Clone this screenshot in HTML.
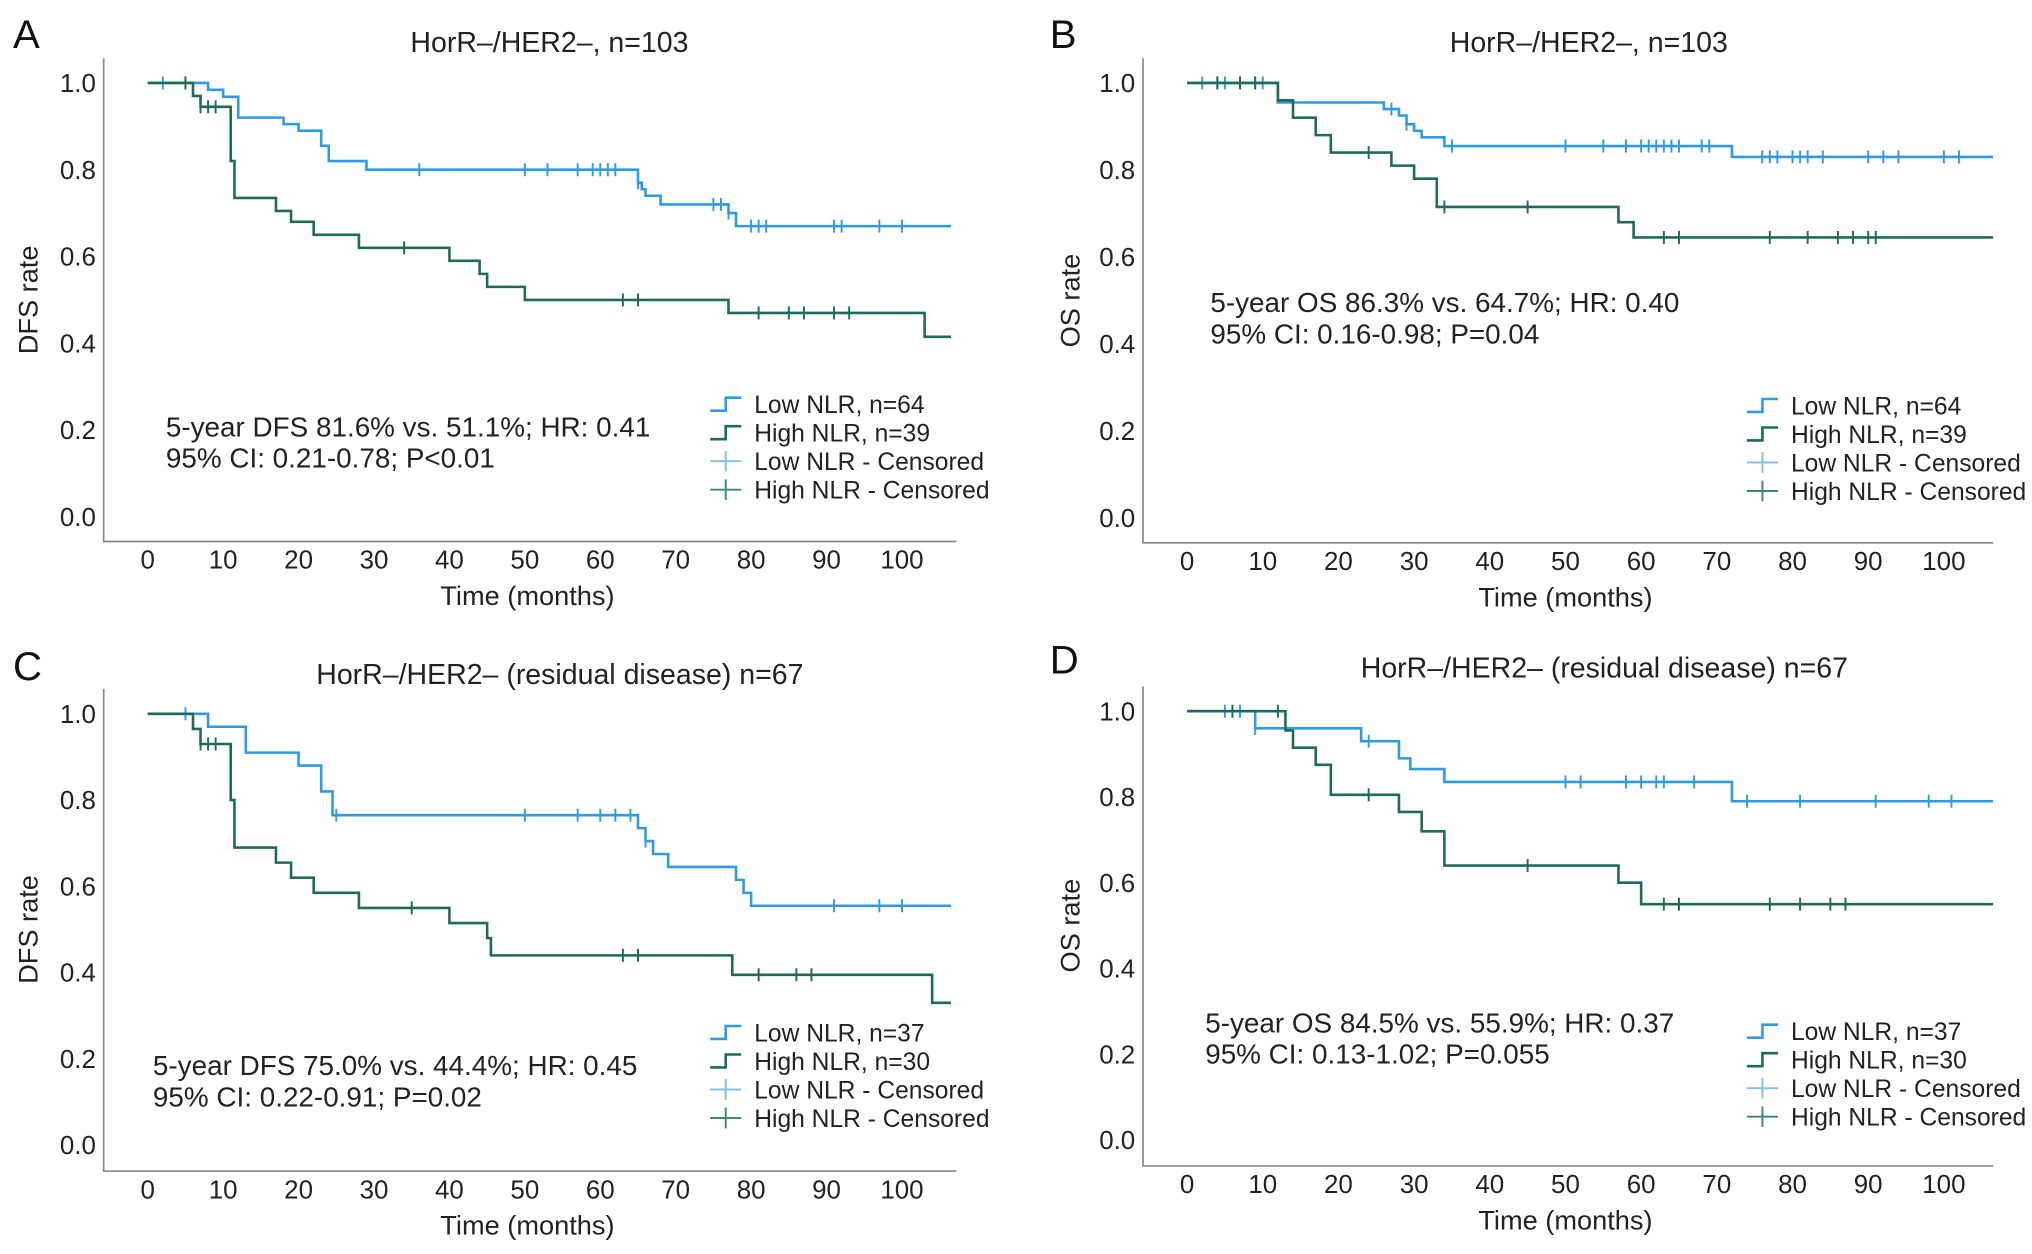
<!DOCTYPE html>
<html><head><meta charset="utf-8"><style>
html,body{margin:0;padding:0;background:#fff;}
svg{display:block;font-family:"Liberation Sans",sans-serif;}
</style></head><body>
<svg id="fig" width="2032" height="1254" viewBox="0 0 1568 968" preserveAspectRatio="none" xmlns="http://www.w3.org/2000/svg"></svg>
<script>
// ---- data ----
const xTicks = [0,10,20,30,40,50,60,70,80,90,100];
const yTicks = [0.0,0.2,0.4,0.6,0.8,1.0];
const tickLabelsY = ["0.0","0.2","0.4","0.6","0.8","1.0"];
const titles = ["HorR\u2013/HER2\u2013, n=103","HorR\u2013/HER2\u2013, n=103","HorR\u2013/HER2\u2013 (residual disease) n=67","HorR\u2013/HER2\u2013 (residual disease) n=67"];
const yTitles = ["DFS rate","OS rate","DFS rate","OS rate"];
const annot1 = ["5-year DFS 81.6% vs. 51.1%; HR: 0.41","5-year OS 86.3% vs. 64.7%; HR: 0.40","5-year DFS 75.0% vs. 44.4%; HR: 0.45","5-year OS 84.5% vs. 55.9%; HR: 0.37"];
const annot2 = ["95% CI: 0.21-0.78; P<0.01","95% CI: 0.16-0.98; P=0.04","95% CI: 0.22-0.91; P=0.02","95% CI: 0.13-1.02; P=0.055"];
const nLow = [64,64,37,37];
const nHigh = [39,39,30,30];
// step times (month at which value begins) and survival values
const lowTA = [0,8,10,12,18,20,23,24,29,65,65.5,66,68,77,78,106.5];
const lowSA = [1,0.984,0.968,0.92,0.905,0.89,0.855,0.82,0.80,0.77,0.755,0.74,0.72,0.70,0.67,0.67];
const lowCA = [2,5,36,50,53,57,59,60,61,62,65,75,76,77,80,81,82,91,92,97,100];
const highTA = [0,6,7,11,11.5,17,19,22,28,40,44,45,50,77,103,106.5];
const highSA = [1,0.97,0.945,0.82,0.735,0.705,0.68,0.65,0.62,0.59,0.56,0.53,0.50,0.47,0.415,0.415];
const highCA = [5,7,8,9,34,63,65,81,85,87,91,93];

const lowTB = [0,12,26,28,29,30,31,34,72,106.5];
const lowSB = [1,0.955,0.94,0.925,0.905,0.89,0.875,0.855,0.83,0.83];
const lowCB = [2,4,5,7,9,10,27,29,35,50,55,58,60,61,62,63,64,65,68,69,76,77,78,80,81,82,84,90,92,94,100,102];
const highTB = [0,12,14,17,19,27,30,33,57,59,106.5];
const highSB = [1,0.96,0.92,0.88,0.84,0.81,0.78,0.715,0.68,0.645,0.645];
const highCB = [4,7,9,24,34,45,63,65,77,82,86,88,90,91];

const lowTC = [0,8,13,20,23,24.5,65,66,67,69,78,79,80,106.5];
const lowSC = [1,0.97,0.91,0.88,0.82,0.765,0.735,0.705,0.675,0.645,0.615,0.585,0.555,0.555];
const lowCC = [5,25,50,57,60,62,64,66,91,97,100];
const highTC = [0,6,7,11,11.5,17,19,22,28,40,45,45.5,77.5,104,106.5];
const highSC = [1,0.965,0.93,0.80,0.69,0.655,0.62,0.585,0.55,0.515,0.48,0.44,0.395,0.33,0.33];
const highCC = [7,8,9,35,63,65,81,86,88];

const lowTD = [0,9,23,28,29.5,34,72,106.5];
const lowSD = [1,0.96,0.93,0.89,0.865,0.835,0.79,0.79];
const lowCD = [5,7,9,24,50,52,58,60,62,63,67,74,81,91,98,101];
const highTD = [0,13,14,17,19,28,31,34,57,60,106.5];
const highSD = [1,0.955,0.915,0.875,0.805,0.765,0.72,0.64,0.60,0.55,0.55];
const highCD = [6,12,24,45,63,65,77,81,85,87];

const panels = [
 {letter:"A",x0:114,x100:696,y1:64,y0:399,axY:418,axL:80,axR:738,axTop:45,ttl:[424,33],ann:[128,330],leg:[548,312],ytx:22,series:[[lowTA,lowSA,lowCA],[highTA,highSA,highCA]]},
 {letter:"B",x0:916,x100:1500,y1:64,y0:400,axY:419,axL:882,axR:1538,axTop:45,ttl:[1226,33],ann:[934,234],leg:[1348,313],ytx:826,series:[[lowTB,lowSB,lowCB],[highTB,highSB,highCB]]},
 {letter:"C",x0:114,x100:696,y1:551,y0:884,axY:904,axL:80,axR:738,axTop:532,ttl:[432,521],ann:[118,823],leg:[548,797],ytx:22,series:[[lowTC,lowSC,lowCC],[highTC,highSC,highCC]]},
 {letter:"D",x0:916,x100:1500,y1:549,y0:880,axY:900,axL:882,axR:1538,axTop:530,ttl:[1238,516],ann:[930,790],leg:[1348,796],ytx:826,series:[[lowTD,lowSD,lowCD],[highTD,highSD,highCD]]}
];
const colors = ["#2f9be6","#1d6b58"];
const cenColors = ["#7fc0ee","#3a8a76"];
const NS="http://www.w3.org/2000/svg";
const svg=document.getElementById('fig');
function mk(tag,attrs,parent,text){const e=document.createElementNS(NS,tag);for(const k in attrs)e.setAttribute(k,attrs[k]);if(text!==undefined)e.textContent=text;(parent||svg).appendChild(e);return e;}

panels.forEach((p,pi)=>{
  const g=mk('g',{});
  
  
  const sx=t=>p.x0+(p.x100-p.x0)*t/100;
  const sy=v=>p.y0+(p.y1-p.y0)*v;
  let e;
  e=mk('text',{x:p.axL-70,y:p.ttl[1]+4,'font-size':31,fill:'#111'},g,p.letter);
  if(pi%2==1) e.setAttribute('x',p.axL-72);
  
  e=mk('text',{x:p.ttl[0],y:p.ttl[1]+7,'font-size':22,'text-anchor':'middle',fill:'#222'},g,titles[pi]);
  
  e=mk('path',{d:`M${p.axL},${p.axTop}V${p.axY}H${p.axR}`,stroke:'#888',fill:'none','stroke-width':1.3},g);
  
  yTicks.forEach((v,i)=>{e=mk('text',{x:p.axL-6,y:sy(v)+7,'font-size':20,'text-anchor':'end',fill:'#222'},g,tickLabelsY[i]);
    });
  xTicks.forEach(t=>{e=mk('text',{x:sx(t),y:p.axY+21,'font-size':20,'text-anchor':'middle',fill:'#222'},g,String(t));
    });
  e=mk('text',{x:(p.x0+p.x100)/2+(p.axR-p.x100-38)/2,y:p.axY+49,'font-size':21,'text-anchor':'middle',fill:'#222'},g,'Time (months)');
  
  const cy=(p.y0+p.y1)/2;
  e=mk('text',{x:p.ytx+7,y:cy,'font-size':21,'text-anchor':'middle',fill:'#222',transform:`rotate(-90 ${p.ytx+7} ${cy})`},g,yTitles[pi]);
  
  p.series.forEach((s,si)=>{
    const [T,S,C]=s;
    let d=`M${sx(T[0])},${sy(S[0])}`;
    for(let i=1;i<T.length;i++){d+=`H${sx(T[i])}V${sy(S[i])}`;}
    e=mk('path',{d:d,stroke:colors[si],fill:'none','stroke-width':2},g);
    
    C.forEach(c=>{let v=S[0];for(let i=0;i<T.length;i++){if(T[i]<=c)v=S[i];}
      const x=sx(c),y=sy(v);
      e=mk('path',{d:`M${x},${y-5}V${y+5}`,stroke:colors[si],'stroke-width':1.5},g);
      });
  });
  e=mk('text',{x:p.ann[0],y:p.ann[1]+7,'font-size':21.5,fill:'#222'},g,annot1[pi]);
  
  e=mk('text',{x:p.ann[0],y:p.ann[1]+31,'font-size':21.5,fill:'#222'},g,annot2[pi]);
  
  const lx=p.leg[0],ly=p.leg[1];
  const labels=[`Low NLR, n=${nLow[pi]}`,`High NLR, n=${nHigh[pi]}`,'Low NLR - Censored','High NLR - Censored'];
  labels.forEach((lab,i)=>{
    const y=ly+22*i;
    if(i<2){e=mk('path',{d:`M${lx},${y+5}H${lx+12}V${y-5}H${lx+24}`,stroke:colors[i],fill:'none','stroke-width':2},g);}
    else{e=mk('path',{d:`M${lx},${y}H${lx+24}M${lx+12},${y-8}V${y+8}`,stroke:cenColors[i-2],fill:'none','stroke-width':1.5},g);}
    
    e=mk('text',{x:lx+34,y:y+7,'font-size':19,fill:'#222'},g,lab);
    
  });
});
</script>
</body></html>
